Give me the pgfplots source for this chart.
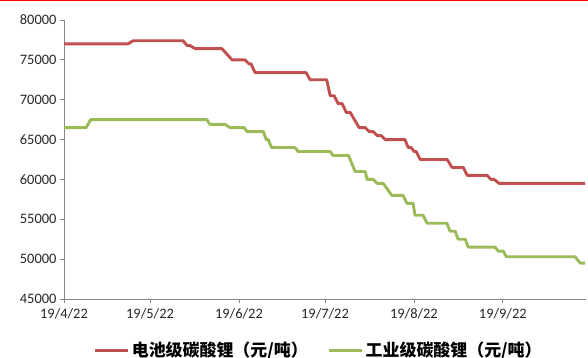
\documentclass[border=0pt]{standalone}
\usepackage{fontspec}
\setmainfont{Carlito}
\newfontfamily\cjk{Noto Sans CJK SC}
\usepackage{pgfplots}
\pgfplotsset{compat=1.18}
\definecolor{redl}{RGB}{192,80,77}
\definecolor{greenl}{RGB}{155,187,89}
\definecolor{axg}{RGB}{134,134,134}
\begin{document}
\begin{tikzpicture}
\useasboundingbox (0,0) rectangle (588bp,358bp);
\draw[red, line width=1bp] (0,357.5bp) -- (588bp,357.5bp);
\begin{axis}[
  at={(64bp,59bp)}, anchor=south west,
  scale only axis, width=522bp, height=279bp,
  xmin=0, xmax=182, ymin=45000, ymax=80000,
  axis x line*=bottom, axis y line*=left,
  axis line style={-, axg, line width=0.8bp},
  tick style={axg, line width=0.8bp},
  tick align=outside, major tick length=4bp,
  xtick={0,30,61,91,122,153},
  xticklabels={19/4/22,19/5/22,19/6/22,19/7/22,19/8/22,19/9/22},
  ytick={45000,50000,...,80000},
  scaled y ticks=false,
  yticklabel style={/pgf/number format/.cd, fixed, 1000 sep={}, assume math mode=true},
  ticklabel style={font=\fontsize{14.5}{16}\selectfont, text=black!85},
  xticklabel style={yshift=-2bp},
  legend style={at={(0.488,-0.183)}, anchor=center, draw=none, fill=none,
    legend columns=2, font=\cjk\bfseries\fontsize{17}{19}\selectfont,
    /tikz/every even column/.append style={column sep=18bp}},
  legend image code/.code={\draw[#1, line width=3bp] (0bp,0bp) -- (33bp,0bp);},
  every axis plot/.append style={line width=2.9bp, line join=round},
]
\addplot[redl, mark=none] coordinates {
(0,77000) (22.3,77000) (24.1,77400) (41.5,77400) (42.9,76800) (43.9,76800)
(45.7,76400) (55.1,76400) (58.6,75000) (63.1,75000) (64.5,74500) (65.2,74500)
(66.6,73400) (84.4,73400) (85.8,72500) (91.6,72500) (92.8,70500) (94.2,70500)
(95.6,69500) (97.0,69500) (98.4,68400) (99.8,68400) (102.9,66500) (105.0,66500)
(106.4,66000) (107.8,66000) (109.2,65500) (110.6,65500) (112.0,65000) (118.9,65000)
(120.0,64000) (121.0,64000) (122.1,63500) (122.8,63500) (124.2,62500) (133.6,62500)
(135.3,61500) (139.2,61500) (140.6,60500) (147.5,60500) (148.9,60000) (150.0,60000)
(151.7,59500) (181.7,59500)
};
\addlegendentry{电池级碳酸锂（元/吨）}
\addplot[greenl, mark=none] coordinates {
(0,66500) (7.7,66500) (9.3,67500) (49.8,67500) (50.9,66900) (56.2,66900)
(57.9,66500) (62.8,66500) (63.8,66000) (69.5,66000) (70.5,65000) (71.2,65000)
(72.4,64000) (80.6,64000) (81.6,63500) (92.8,63500) (93.8,63000) (99.2,63000)
(101.5,61000) (105.0,61000) (105.7,60000) (107.8,60000) (109.2,59500) (111.3,59500)
(114.3,58000) (118.2,58000) (119.6,57000) (121.7,57000) (122.4,55500) (125.2,55500)
(126.6,54500) (133.5,54500) (134.6,53500) (136.4,53500) (137.4,52500) (139.9,52500)
(140.9,51500) (150.3,51500) (151.4,51000) (153.2,51000) (154.2,50300) (178.2,50300)
(180.0,49500) (181.7,49500)
};
\addlegendentry{工业级碳酸锂（元/吨）}
\end{axis}
\end{tikzpicture}
\end{document}
